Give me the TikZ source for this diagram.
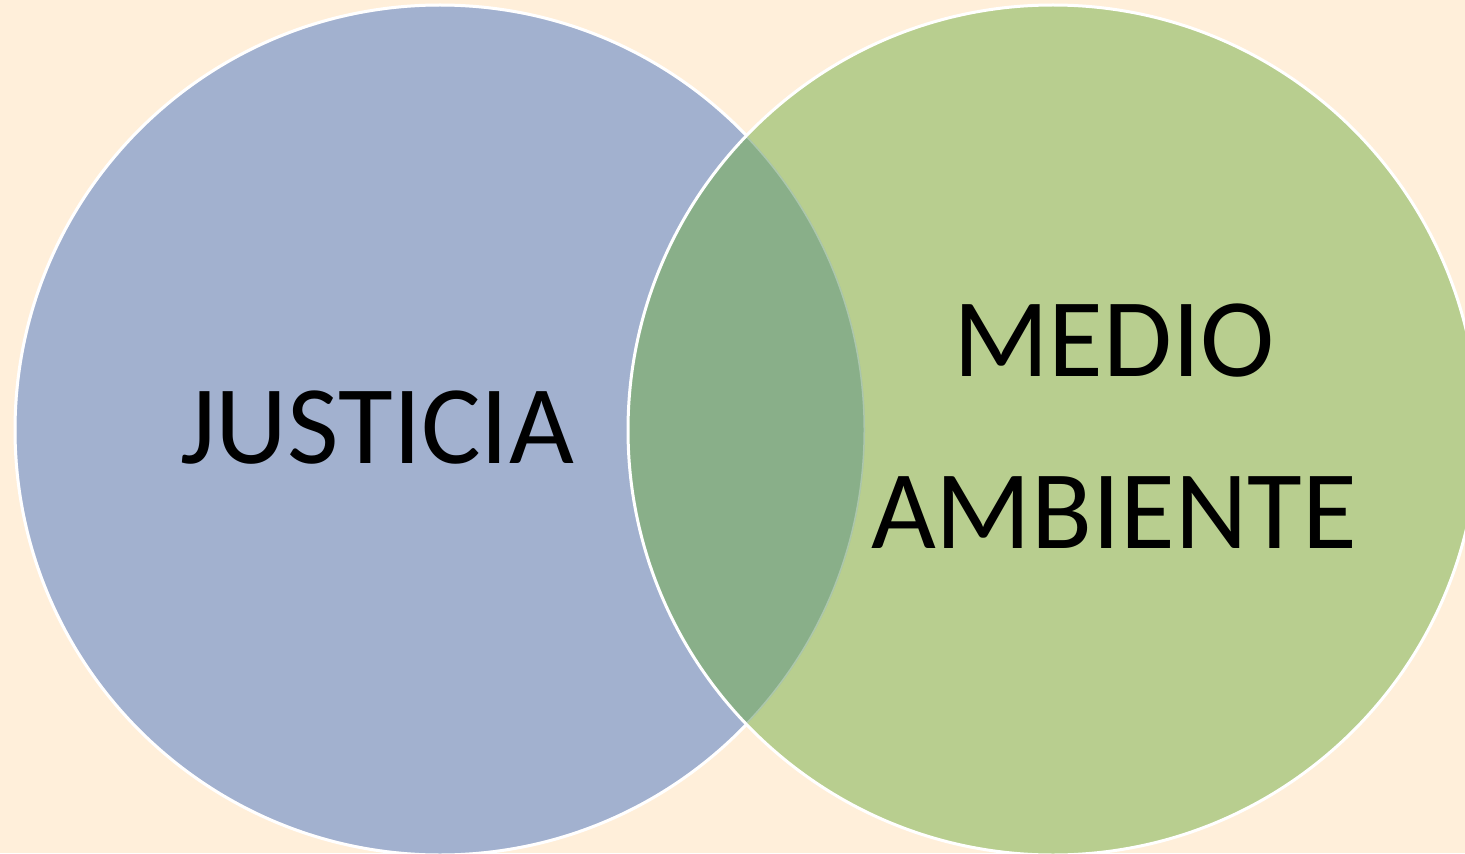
\documentclass[tikz,border=0pt]{standalone}
\usepackage{fontspec}
\setmainfont{Carlito}
\definecolor{peach}{HTML}{FFEFDA}
\definecolor{justblue}{HTML}{A2B1CF}
\definecolor{medgreen}{HTML}{B8CE8F}
\definecolor{lensgreen}{HTML}{89AF89}
\tikzset{
  venn/.style={draw=white, line width=1.5pt},
  label/.style={font=\fontsize{56}{86}\selectfont, align=center, anchor=base, inner sep=0pt}
}
\begin{document}
\begin{tikzpicture}[x=0.5pt, y=0.5pt]
    \fill[peach] (0, 0) rectangle (1465, 853);
    \useasboundingbox (0, 0) rectangle (1465, 853);

    \fill[justblue] (440, 423) circle (425);
    \draw[venn] (440, 423) circle (425);
    \fill[medgreen] (1053, 423) circle (425);
    \begin{scope}
      \clip (440, 423) circle (425);
      \fill[lensgreen] (1053, 423) circle (425);
      \draw[white, opacity=0.3, line width=1.5pt] (440, 423) circle (425);
    \end{scope}
    \draw[venn] (1053, 423) circle (425);

    \node[label] (justicia) at (377, 390) {JUSTICIA};
    \node[label] (medio) at (1114, 305) {MEDIO\\AMBIENTE};
  \end{tikzpicture}
\end{document}
